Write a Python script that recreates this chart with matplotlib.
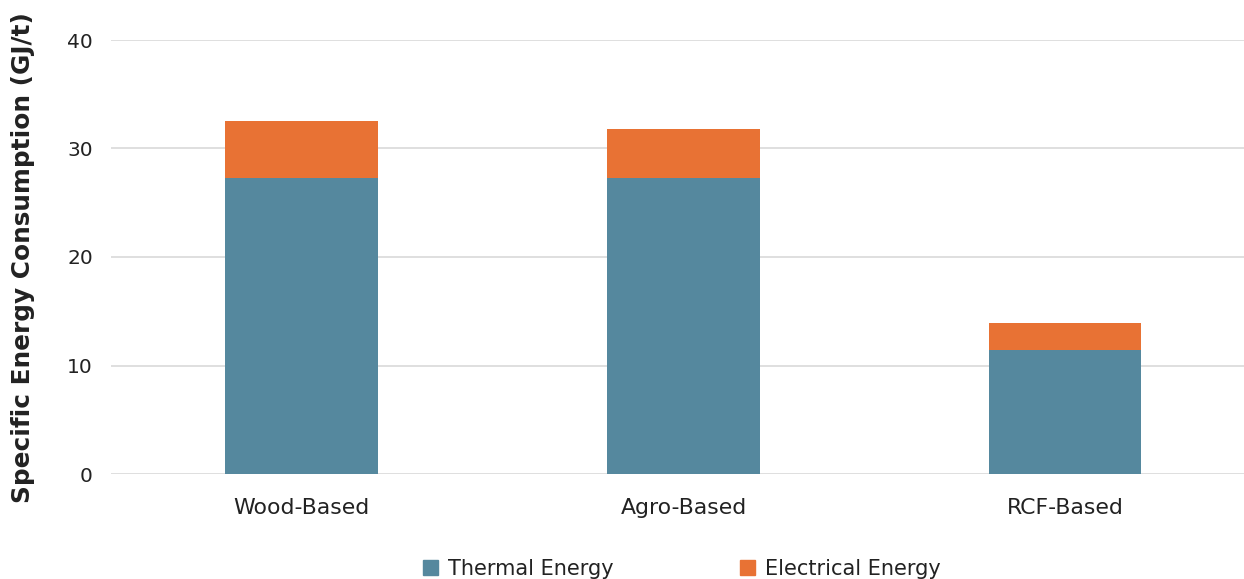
import matplotlib
matplotlib.use("Agg")
import matplotlib.pyplot as plt
from matplotlib.patches import Patch

categories = ["Wood-Based", "Agro-Based", "RCF-Based"]
thermal = [27.3, 27.3, 11.4]
electrical = [5.2, 4.5, 2.5]
yticks = [0, 10, 20, 30, 40]

teal = "#55889E"
orange = "#E87234"
text_color = "#222222"

plt.rcParams["font.family"] = ["DejaVu Sans"]

fig = plt.figure(figsize=(12.44, 5.79), dpi=100)
W, H = 1244, 579
left, right, bottom, top = 111, 1256, 474, 40
ax = fig.add_axes([left / W, 1 - bottom / H, (right - left) / W, (bottom - top) / H])

x = range(len(categories))
ax.bar(x, thermal, width=0.40, color=teal, zorder=3)
ax.bar(x, electrical, width=0.40, bottom=thermal, color=orange, zorder=3)

ax.set_xlim(-0.5, 2.5)
ax.set_ylim(0, 40)
ax.set_yticks(yticks)
ax.set_xticks(list(x))
ax.set_xticklabels(categories, fontsize=15.8, color=text_color)
ax.tick_params(axis="y", labelsize=14.5, colors=text_color, length=0, pad=13)
ax.tick_params(axis="x", length=0, pad=17)
ax.yaxis.grid(True, color="#D9D9D9", linewidth=1.2, zorder=0)
for s in ax.spines.values():
    s.set_visible(False)

fig.text(23 / W, 1 - 258 / H, "Specific Energy Consumption (GJ/t)", rotation=90,
         ha="center", va="center", fontsize=17.8, fontweight="bold", color=text_color)

handles = [Patch(color=teal, label="Thermal Energy"), Patch(color=orange, label="Electrical Energy")]
fig.legend(handles=handles, loc="center", bbox_to_anchor=(682 / W, 1 - 569 / H), ncol=2,
           frameon=False, fontsize=15, handlelength=0.72, handleheight=0.72,
           handletextpad=0.48, columnspacing=6.1, labelcolor=text_color)

fig.savefig("out.png", dpi=100)
